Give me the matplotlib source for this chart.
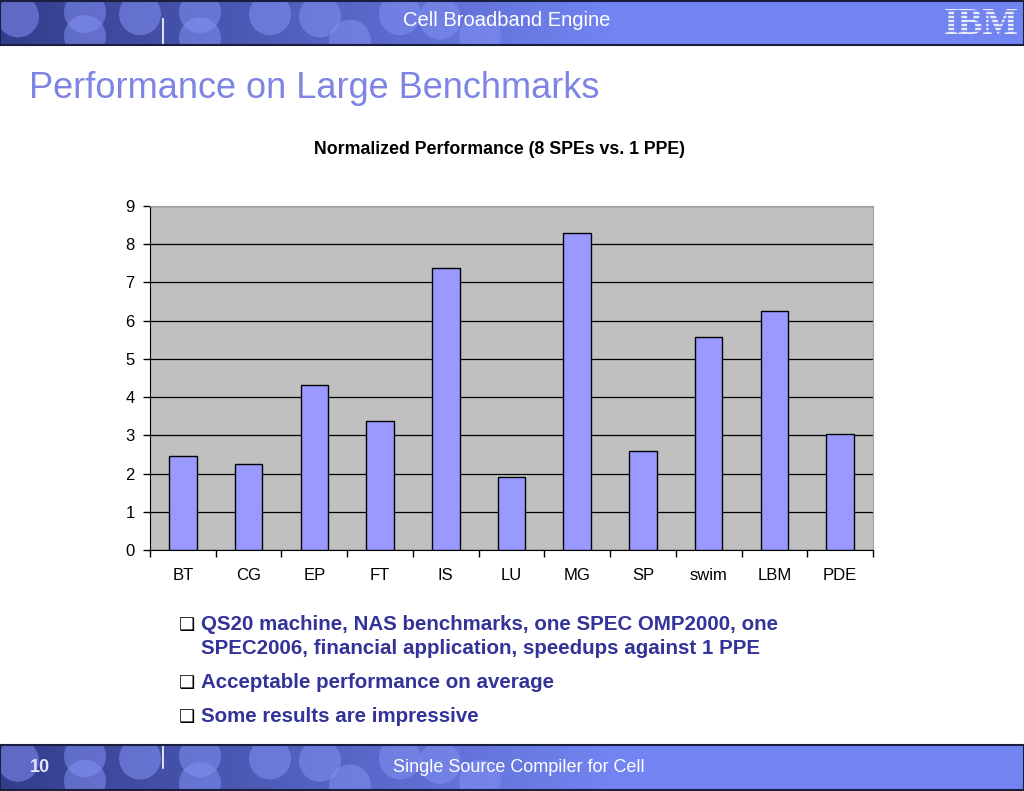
import numpy as np
import matplotlib
matplotlib.use("Agg")
import matplotlib.pyplot as plt
from matplotlib.patches import Ellipse

# data
benchmarks = ["BT", "CG", "EP", "FT", "IS", "LU", "MG", "SP", "swim", "LBM", "PDE"]
speedup = [2.46, 2.25, 4.32, 3.38, 7.37, 1.92, 8.29, 2.60, 5.58, 6.25, 3.04]
yticks = list(range(0, 10))

bullets = [
    "QS20 machine, NAS benchmarks, one SPEC OMP2000, one\nSPEC2006, financial application, speedups against 1 PPE",
    "Acceptable performance on average",
    "Some results are impressive",
]

W, H = 1024, 791
fig = plt.figure(figsize=(W / 100, H / 100), dpi=100)
fig.patch.set_facecolor("white")


def fx(px):
    return px / W


def fy(py):
    return 1 - py / H


def band(y0, y1, line_top):
    """blue gradient banner with some blobs, like the template"""
    ax = fig.add_axes([0, fy(y1), 1, fy(y0) - fy(y1)])
    h = y1 - y0
    grad = np.linspace(0, 1, 512)
    dark = np.array([0.20, 0.24, 0.55])
    light = np.array([0.45, 0.52, 0.95])
    t = np.clip(grad / 0.6, 0, 1)[None, :, None]
    img = dark * (1 - t) + light * t
    img = np.repeat(img, 2, axis=0)
    ax.imshow(img, extent=[0, W, 0, h], aspect="auto")
    blobs = [(18, 0.65), (85, 0.2), (85, 0.75), (140, 0.7), (200, 0.75), (200, 0.15),
             (270, 0.7), (320, 0.65), (350, 0.1), (400, 0.7), (440, 0.6), (480, 0.2)]
    for cx, cy in blobs:
        ax.add_artist(Ellipse((cx, cy * h), 42, 42, color="#8290f2", alpha=0.55, lw=0))
    ax.set_xlim(0, W)
    ax.set_ylim(0, h)
    if line_top:
        ax.axvline(163, ymin=0.5, ymax=1.0, color="white", lw=1.2)
    else:
        ax.axvline(163, ymin=0.0, ymax=0.6, color="white", lw=1.2)
    for s in ax.spines.values():
        s.set_color("#1a1f40")
        s.set_linewidth(1.5)
    ax.set_xticks([])
    ax.set_yticks([])
    return ax


band(1, 45, False)
band(745, 790, True)

sans = ["Liberation Sans", "DejaVu Sans"]
fig.text(fx(507), fy(20), "Cell Broadband Engine", color="white", fontsize=14.5,
         family=sans, ha="center", va="center")
fig.text(fx(981), fy(24), "IBM", color="#e8ecff", fontsize=27, fontweight="bold",
         family=["Liberation Serif", "DejaVu Serif"], ha="center", va="center", zorder=5)
for yy in range(11, 38, 4):
    fig.add_artist(plt.Line2D([fx(943), fx(1020)], [fy(yy), fy(yy)], color="#7383ee",
                              lw=1.2, zorder=6))

fig.text(fx(40), fy(768), "10", color="#e0e4ff", fontsize=13, fontweight="bold",
         family=sans, ha="center", va="center")
fig.text(fx(519), fy(767), "Single Source Compiler for Cell", color="white", fontsize=13,
         family=sans, ha="center", va="center")

fig.text(fx(29), fy(89), "Performance on Large Benchmarks", color="#7d84e4", fontsize=26,
         family=sans, ha="left", va="center")

fig.text(fx(500), fy(149), "Normalized Performance (8 SPEs vs. 1 PPE)", color="black",
         fontsize=12.8, fontweight="bold", family=sans, ha="center", va="center")

# chart
ax = fig.add_axes([fx(150), fy(550), fx(873) - fx(150), fy(206) - fy(550)])
ax.set_facecolor("#c0c0c0")
x = np.arange(len(benchmarks))
ax.bar(x, speedup, width=0.42, color="#9999ff", edgecolor="black", linewidth=1, zorder=3)
ax.set_xlim(-0.5, len(benchmarks) - 0.5)
ax.set_ylim(0, 9)
ax.set_yticks(yticks)
ax.yaxis.grid(True, color="black", linewidth=0.9, zorder=1)
ax.set_axisbelow(True)
ax.set_xticks(x)
ax.set_xticklabels(benchmarks)
ax.set_xticks(np.arange(-0.5, len(benchmarks)), minor=True)
ax.tick_params(axis="x", which="major", length=0, pad=13, labelsize=12)
ax.tick_params(axis="x", which="minor", length=5, width=1, direction="out")
ax.tick_params(axis="y", length=5, width=1, direction="out", labelsize=12, pad=6)
for lab in ax.get_xticklabels() + ax.get_yticklabels():
    lab.set_family(sans)
ax.spines["left"].set_color("black")
ax.spines["bottom"].set_color("black")
ax.spines["top"].set_color("#a0a0a0")
ax.spines["right"].set_color("#a0a0a0")

# bullets
bullet_y = [625, 683, 717]
for txt, by in zip(bullets, bullet_y):
    fig.text(fx(179), fy(by), "\u2751", color="black", fontsize=13,
             family=["DejaVu Sans"], ha="left", va="center")
    lines = txt.split("\n")
    for i, line in enumerate(lines):
        fig.text(fx(201), fy(by + 23 * i), line, color="#333399", fontsize=14.8,
                 fontweight="bold", family=sans, ha="left", va="center")

fig.savefig("out.png", dpi=100)
